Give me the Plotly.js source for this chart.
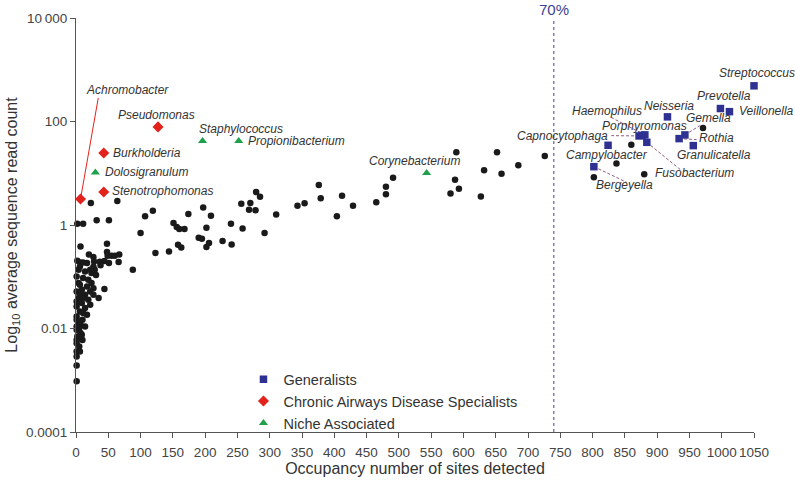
<!DOCTYPE html>
<html><head><meta charset="utf-8">
<script src="https://cdn.plot.ly/plotly-3.0.1.min.js"></script>
<style>html,body{margin:0;padding:0;background:#fff}#chart{width:795px;height:485px}</style>
</head><body><div id="chart"></div>
<script>
// ---------- data ----------
const generalistNames = ['Streptococcus','Prevotella','Veillonella','Neisseria','Haemophilus','Porphyromonas','Capnocytophaga','Fusobacterium','Campylobacter','Bergeyella','Gemella','Rothia','Granulicatella'];
const generalistOcc   = [1050, 998, 1012, 916, 881, 877, 872, 884, 824, 802, 943, 934, 956];
const generalistReads = [489, 178, 155, 123, 55.1, 54, 52.6, 39.6, 34.7, 13.4, 55.1, 46.7, 34.2];

const specialistNames = ['Achromobacter','Pseudomonas','Burkholderia','Stenotrophomonas'];
const specialistOcc   = [7, 127, 43, 43];
const specialistReads = [3.18, 78.7, 24.7, 4.35];

const nicheNames = ['Staphylococcus','Propionibacterium','Dolosigranulum','Corynebacterium'];
const nicheOcc   = [196, 252, 30, 543];
const nicheReads = [42.2, 42.2, 10.3, 10.1];

const otherOcc = [971,860,837,880,802,726,685,659,652,632,627,589,587,593,580,491,480,480,465,376,379,412,429,404,354,343,310,292,279,285,256,270,268,278,240,258,227,241,197,209,174,202,190,195,206,202,151,156,160,168,158,163,144,123,119,107,100,64,51,88,23,32,2,11,
 7,2,7,11,20,27,28,37,44,48,49,48,55,60,67,51,38,27,66,31,44,35,4,14,22,11,19,24,4,17,9,22,14,27,4,19,9,22,1,14,6,17,1,10,4,14,1,7,2,10,1,5,1,1,1,6,17,24,29,1,6,27,1,11,6,1,11,1,7,1,5,4,1,9,1,6];
const otherReads = [75.2,35.7,15.5,9.53,8.34,21.6,14.2,9.82,25.4,11.4,3.57,25.4,7.52,5.04,4.08,8.22,5.51,3.91,2.74,5.94,3.27,3.69,2.36,1.47,2.62,2.36,1.60,0.700,4.35,3.52,2.58,2.67,1.98,1.92,1.06,0.859,0.490,0.421,2.19,1.51,1.63,0.887,0.568,0.543,0.449,0.375,1.09,0.914,0.837,0.837,0.416,0.369,0.308,0.287,1.89,1.47,0.700,2.91,1.23,0.136,2.67,1.23,1.06,1.06,
 0.385,0.204,0.189,0.189,0.270,0.240,0.198,0.195,0.201,0.301,0.255,0.434,0.255,0.255,0.270,0.184,0.166,0.156,0.192,0.108,0.0578,0.0387,0.136,0.127,0.136,0.0944,0.0876,0.0755,0.0755,0.0649,0.0561,0.052,0.0449,0.0449,0.0387,0.0359,0.031,0.0287,0.0267,0.0248,0.0213,0.0184,0.0171,0.0147,0.0127,0.0109,0.00944,0.00815,0.0070,0.0060,0.00521,0.00449,0.00287,0.00192,0.00096,0.158,0.184,0.118,0.136,0.101,0.070,0.060,0.052,0.0387,0.0449,0.0333,0.0199,0.0147,0.0118,0.0109,0.0102,0.0065,0.006,0.00755,0.00359,0.00359];

const xTickVals = [0,50,100,150,200,250,300,350,400,450,500,550,600,650,700,750,800,850,900,950,1000,1050];
const yTickVals = [0.0001, 0.01, 1, 100, 10000];
const yTickText = ['0.0001', '0.01', '1', '100', '10\u2009000'];
const thresholdOcc = 740;   // 70% of sites
const thresholdLabel = '70%';

// ---------- label placement (layout only): [x, y, anchor, xshift] ----------
const labelSpots = {
  Achromobacter: [79, 414, 'center', 0],
  Pseudomonas: [124, 136, 'center', 0],
  Burkholderia: [54, 24.7, 'left', 0],
  Dolosigranulum: [42, 10.5, 'left', 0],
  Stenotrophomonas: [53, 4.5, 'left', 0],
  Staphylococcus: [255, 73, 'center', 0],
  Propionibacterium: [263, 42.2, 'left', 0],
  Corynebacterium: [524, 17, 'center', 0],
  Streptococcus: [1050, 871, 'center', 3],
  Prevotella: [1004, 307, 'center', 0],
  Veillonella: [1023, 163, 'left', 0],
  Neisseria: [918, 197, 'center', 0],
  Haemophilus: [823, 163, 'center', 0],
  Porphyromonas: [880, 83, 'center', 0],
  Capnocytophaga: [827, 53.3, 'right', 0],
  Campylobacter: [822, 22.2, 'center', 0],
  Bergeyella: [850, 5.84, 'center', 0],
  Fusobacterium: [893, 10.1, 'left', 0],
  Gemella: [979, 115, 'center', 0],
  Rothia: [961, 47.3, 'left', 0],
  Granulicatella: [988, 22.2, 'center', 0]
};
const leaderEnds = {
  Achromobacter: [34.5, 286],
  Haemophilus: [827, 123],
  Capnocytophaga: [829, 53.3],
  Bergeyella: [853, 6.67],
  Fusobacterium: [938, 11.2],
  Gemella: [966, 83.3],
  Rothia: [961, 44.7]
};

// ---------- style ----------
const FONT = "'Liberation Sans', Arial, sans-serif";
const NAVY = '#2e3192', RED = '#e3231b', GREEN = '#1fa04a', LEADER = '#8b5a7c';

const traces = [];
const allPts = {};
generalistNames.forEach((n,i)=>allPts[n]=[generalistOcc[i], generalistReads[i]]);
specialistNames.forEach((n,i)=>allPts[n]=[specialistOcc[i], specialistReads[i]]);
nicheNames.forEach((n,i)=>allPts[n]=[nicheOcc[i], nicheReads[i]]);
Object.keys(leaderEnds).forEach(n=>{
  const p = allPts[n], e = leaderEnds[n];
  const isRed = n === 'Achromobacter';
  traces.push({x:[p[0], e[0]], y:[p[1], e[1]], mode:'lines', showlegend:false, hoverinfo:'skip',
    line:{color: isRed ? RED : LEADER, width:1, dash: isRed ? 'solid' : '3px,2px'}});
});
traces.push({x: otherOcc, y: otherReads, mode:'markers', showlegend:false, name:'Other',
  marker:{color:'#1a1a1a', size:6.5, line:{width:0}}, cliponaxis:false});
traces.push({x: generalistOcc, y: generalistReads, text: generalistNames, mode:'markers', name:'Generalists',
  marker:{color:NAVY, symbol:'square', size:7.5, line:{width:0}}, cliponaxis:false});
traces.push({x: specialistOcc, y: specialistReads, text: specialistNames, mode:'markers', name:'Chronic Airways Disease Specialists',
  marker:{color:RED, symbol:'diamond', size:8.5, line:{width:0}}, cliponaxis:false});
traces.push({x: nicheOcc, y: nicheReads, text: nicheNames, mode:'markers', name:'Niche Associated',
  marker:{color:GREEN, symbol:'triangle-up', size:8, line:{width:0}}, cliponaxis:false});

const annotations = Object.keys(labelSpots).map(n=>{
  const s = labelSpots[n];
  return {x: s[0], y: Math.log10(s[1]), xref:'x', yref:'y', text:'<i>'+n+'</i>', showarrow:false,
    xanchor: s[2], yanchor:'middle', xshift: s[3], font:{family:FONT, size:12, color:'#333'}};
});
annotations.push({x: thresholdOcc, y: 1, xref:'x', yref:'paper', yanchor:'bottom', xanchor:'center', yshift:-2,
  text: thresholdLabel, showarrow:false, font:{family:FONT, size:15, color:'#3d4192'}});

const layout = {
  width:795, height:485,
  margin:{l:76, r:41, t:18, b:53},
  paper_bgcolor:'#fff', plot_bgcolor:'#fff',
  font:{family:FONT, color:'#333'},
  showlegend:true,
  legend:{x:0.247, y:0.166, xanchor:'left', yanchor:'top', bgcolor:'rgba(0,0,0,0)',
    font:{family:FONT, size:14.5, color:'#333'}, tracegroupgap:0, itemwidth:30},
  xaxis:{range:[0,1050], tickvals:xTickVals, tickangle:0, ticks:'outside', ticklen:5, tickcolor:'#555',
    ticklabelstandoff:3,
    showline:true, linecolor:'#555', linewidth:1, showgrid:false, zeroline:false,
    tickfont:{family:FONT, size:13.5, color:'#444'},
    title:{text:'Occupancy number of sites detected', font:{family:FONT, size:16, color:'#333'}, standoff:3}},
  yaxis:{type:'log', range:[-4,4], tickvals:yTickVals, ticktext:yTickText, ticks:'outside', ticklen:5, tickcolor:'#555',
    showline:true, linecolor:'#555', linewidth:1, showgrid:false, zeroline:false,
    tickfont:{family:FONT, size:13.5, color:'#444'},
    title:{text:'Log<sub>10</sub> average sequence read count', font:{family:FONT, size:16, color:'#333'}, standoff:4}},
  shapes:[{type:'line', xref:'x', yref:'paper', x0:thresholdOcc, x1:thresholdOcc, y0:0, y1:1,
    line:{color:'#3d4192', width:1, dash:'3px,3px'}}],
  annotations: annotations
};
Plotly.newPlot('chart', traces, layout, {displayModeBar:false, staticPlot:true});
</script></body></html>
